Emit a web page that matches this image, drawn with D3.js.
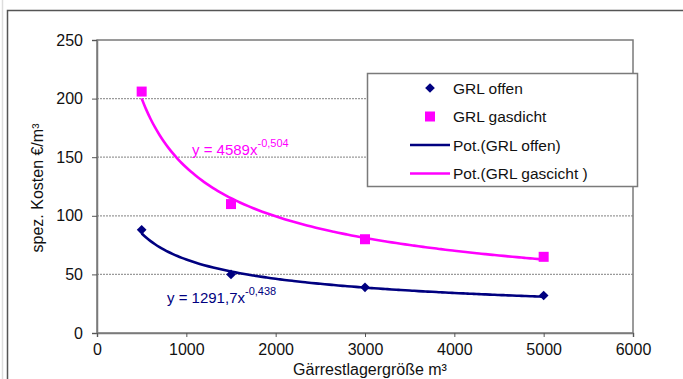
<!DOCTYPE html>
<html>
<head>
<meta charset="utf-8">
<script src="https://cdn.jsdelivr.net/npm/d3@7"></script>
<style>
    body { margin: 0; background: #fff; }
    svg text { font-family: "Liberation Sans", Arial, sans-serif; fill: #111; }
</style>
</head>
<body>
<svg id="chart"></svg>
<script>
(function (d3) {
    'use strict';

    // storage size (m³)
    var sizes = [500, 1500, 3000, 5000];
    // specific cost €/m³
    var offen = [88, 50, 39, 32];
    var gasdicht = [206, 110, 80, 65];

    // power trend lines y = a * x^b, as printed on the chart
    var fitNames = ['Pot.(GRL offen)', 'Pot.(GRL gascicht )'];
    var fitCoef = [1291.7, 4589];
    var fitExp = [-0.438, -0.504];
    var fitLabelBase = ['y = 1291,7x', 'y = 4589x'];
    var fitLabelSup = ['-0,438', '-0,504'];

    var xTicks = [0, 1000, 2000, 3000, 4000, 5000, 6000];
    var yTicks = [0, 50, 100, 150, 200, 250];

    var width = 683,
        height = 379,
        margin = { top: 40, right: 50, bottom: 46, left: 97 };

    var navy = '#000080',
        pink = '#ff00ff';

    var x = d3.scaleLinear().domain([0, 6000]).range([margin.left, width - margin.right]),
        y = d3.scaleLinear().domain([0, 250]).range([height - margin.bottom, margin.top]);

    var svg = d3.select('#chart')
        .attr('width', width)
        .attr('height', height);

    // outer frame of the pasted chart
    svg.append('line')
        .attr('x1', 2.5).attr('x2', 2.5).attr('y1', 0).attr('y2', height)
        .attr('stroke', '#ddd').attr('stroke-width', 1.5);
    svg.append('path')
        .attr('d', 'M7.5,' + height + 'V10.5H' + width)
        .attr('fill', 'none')
        .attr('stroke', '#555')
        .attr('stroke-width', 1.5);

    // gridlines
    svg.append('g')
        .selectAll('line')
        .data(yTicks.filter(function (d) { return d > 0 && d < 250; }))
        .enter()
        .append('line')
        .attr('x1', x(0)).attr('x2', x(6000))
        .attr('y1', function (d) { return y(d); })
        .attr('y2', function (d) { return y(d); })
        .attr('stroke', '#9a9a9a')
        .attr('stroke-width', 1.3)
        .attr('stroke-dasharray', '2,1');

    // plot frame
    svg.append('rect')
        .attr('x', x(0)).attr('y', y(250))
        .attr('width', x(6000) - x(0))
        .attr('height', y(0) - y(250))
        .attr('fill', 'none')
        .attr('stroke', '#7a7a7a')
        .attr('stroke-width', 1.5);

    var yAxis = svg.append('g')
        .attr('transform', 'translate(' + x(0) + ',0)')
        .call(d3.axisLeft(y).tickValues(yTicks).tickSize(5).tickPadding(9));
    var xAxis = svg.append('g')
        .attr('transform', 'translate(0,' + y(0) + ')')
        .call(d3.axisBottom(x).tickValues(xTicks).tickSize(4).tickPadding(7).tickFormat(d3.format('d')));

    [xAxis, yAxis].forEach(function (ax) {
        ax.select('.domain').attr('stroke', '#7a7a7a').attr('stroke-width', 1.5);
        ax.selectAll('.tick line').attr('stroke', '#555');
        ax.selectAll('.tick text')
            .style('font-family', '"Liberation Sans", Arial, sans-serif')
            .style('font-size', '16px')
            .attr('fill', '#111');
    });

    // trend curves
    var line = d3.line()
        .x(function (d) { return x(d[0]); })
        .y(function (d) { return y(d[1]); })
        .curve(d3.curveMonotoneX);

    var colors = [navy, pink];
    fitCoef.forEach(function (a, i) {
        var pts = d3.range(500, 5001, 50).map(function (v) {
            return [v, a * Math.pow(v, fitExp[i])];
        });
        svg.append('path')
            .datum(pts)
            .attr('d', line)
            .attr('fill', 'none')
            .attr('stroke', colors[i])
            .attr('stroke-width', 2.6);
    });

    // markers
    svg.append('g')
        .selectAll('path')
        .data(sizes)
        .enter()
        .append('path')
        .attr('d', d3.symbol().type(d3.symbolDiamond2).size(60))
        .attr('transform', function (d, i) { return 'translate(' + x(d) + ',' + y(offen[i]) + ')'; })
        .attr('fill', navy);

    svg.append('g')
        .selectAll('rect')
        .data(sizes)
        .enter()
        .append('rect')
        .attr('x', function (d) { return x(d) - 5; })
        .attr('y', function (d, i) { return y(gasdicht[i]) - 5; })
        .attr('width', 10)
        .attr('height', 10)
        .attr('fill', pink);

    // equation labels
    var eqPos = [[167, 303], [192, 155]];
    fitLabelBase.forEach(function (t, i) {
        var txt = svg.append('text')
            .attr('x', eqPos[i][0])
            .attr('y', eqPos[i][1])
            .style('font-size', '15px')
            .style('fill', colors[i]);
        txt.append('tspan').text(t);
        txt.append('tspan')
            .attr('dy', -8)
            .style('font-size', '11px')
            .text(fitLabelSup[i]);
    });

    // axis titles
    svg.append('text')
        .attr('x', 370)
        .attr('y', 375)
        .style('text-anchor', 'middle')
        .style('font-size', '16px')
        .text('Gärrestlagergröße m³');

    svg.append('text')
        .attr('transform', 'translate(43,188) rotate(-90)')
        .style('text-anchor', 'middle')
        .style('font-size', '16px')
        .text('spez. Kosten €/m³');

    // legend
    var legend = svg.append('g');
    legend.append('rect')
        .attr('x', 367.5).attr('y', 73.5)
        .attr('width', 270).attr('height', 113)
        .attr('fill', '#fff')
        .attr('stroke', '#7a7a7a')
        .attr('stroke-width', 1.5);

    var legendItems = ['GRL offen', 'GRL gasdicht', fitNames[0], fitNames[1]];
    var legendRows = legend.selectAll('.legend-row')
        .data(legendItems)
        .enter()
        .append('g')
        .attr('class', 'legend-row')
        .attr('transform', function (d, i) { return 'translate(0,' + (88 + i * 28.5) + ')'; });

    legendRows.filter(function (d, i) { return i === 0; })
        .append('path')
        .attr('d', d3.symbol().type(d3.symbolDiamond2).size(60))
        .attr('transform', 'translate(430,0)')
        .attr('fill', navy);
    legendRows.filter(function (d, i) { return i === 1; })
        .append('rect')
        .attr('x', 425).attr('y', -5)
        .attr('width', 10).attr('height', 10)
        .attr('fill', pink);
    legendRows.filter(function (d, i) { return i >= 2; })
        .append('line')
        .attr('x1', 410).attr('x2', 450)
        .attr('stroke', function (d, i) { return colors[i]; })
        .attr('stroke-width', 2.6);

    legendRows.append('text')
        .attr('x', 453)
        .attr('y', 5.5)
        .style('font-size', '15.5px')
        .text(function (d) { return d; });

})(window.d3);
</script>
</body>
</html>
